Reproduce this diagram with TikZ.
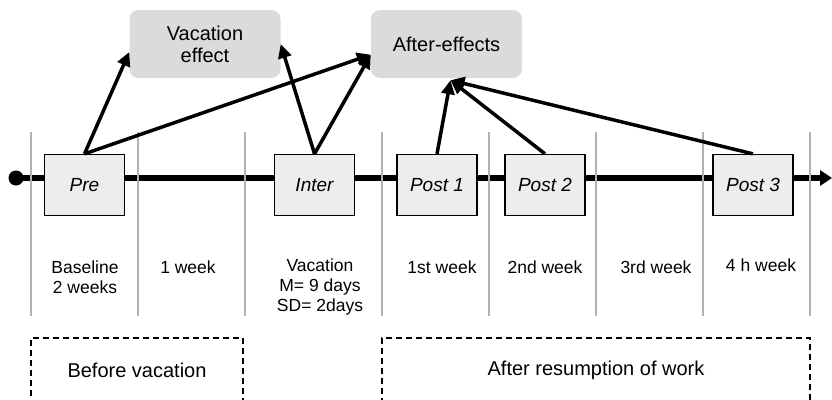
\documentclass[tikz,border=0pt]{standalone}
\usepackage{fontspec}
\setmainfont{Liberation Sans}
\usetikzlibrary{arrows.meta}
\tikzstyle{phasebox} = [draw,fill=black!7,font=\fontsize{19}{22}\selectfont\itshape,minimum width=80pt,minimum height=61pt,inner sep=0pt,line width=1.3pt]
\tikzstyle{effectbox} = [fill=black!14,rounded corners=9pt,font=\fontsize{20}{22}\selectfont,align=center,minimum width=151pt,minimum height=68pt,inner sep=0pt]
\tikzstyle{periodlabel} = [font=\fontsize{17.5}{20}\selectfont,align=center,inner sep=0pt]
\tikzstyle{spanbox} = [draw,line width=2.5pt,dash pattern=on 6pt off 4pt,font=\fontsize{20}{22}\selectfont,minimum height=64pt,inner sep=0pt]
\tikzstyle{effectarrow} = [line width=3.5pt,-{Triangle[length=14pt,width=13pt]}]

\begin{document}
\begin{tikzpicture}[x=1pt,y=-1pt]
		\useasboundingbox (0,0) rectangle (832,399);

		% time line
		\node[circle,fill,inner sep=0pt,minimum size=15pt] (start) at (16,178) {};
		\coordinate (tend) at (832,178);
		\draw[line width=6pt,-{Triangle[length=12pt,width=15pt]}] (start.center) -- (tend);
		\foreach \x in {31,138,245,382,489,596,703,810}
			\draw[black!30,line width=1.2pt] (\x,132) -- (\x,316);

		\node[phasebox] (pre) at (84.5,185) {Pre};
		\node[phasebox] (inter) at (314.5,185) {Inter};
		\node[phasebox] (post1) at (437,185) {Post 1};
		\node[phasebox] (post2) at (545,185) {Post 2};
		\node[phasebox] (post3) at (753,185) {Post 3};

		\node[effectbox] (vac) at (205,44) {Vacation\\effect};
		\node[effectbox] (after) at (446.5,44) {After-effects};

		\draw[effectarrow] (pre.north) -- (vac.186);
		\draw[effectarrow] (pre.north) -- (after.188);
		\draw[effectarrow] (inter.north) -- (vac.east);
		\draw[effectarrow] (inter.north) -- (after.188);
		\draw[effectarrow] (post1.north) -- ([xshift=4pt,yshift=-2pt]after.south);
		\draw[effectarrow] (post2.north) -- ([xshift=4pt,yshift=-2pt]after.south);
		\draw[effectarrow] (post3.north) -- ([xshift=4pt,yshift=-2pt]after.south);

		\node[periodlabel] (base) at (85,277) {Baseline\\2 weeks};
		\node[periodlabel] (wk) at (188,267) {1 week};
		\node[periodlabel] (vacation) at (320,287) {Vacation\\M= 9 days\\SD= 2days};
		\node[periodlabel] (wk1) at (442,267) {1st week};
		\node[periodlabel] (wk2) at (545,267) {2nd week};
		\node[periodlabel] (wk3) at (656,267) {3rd week};
		\node[periodlabel] (wk4) at (761,265) {4 h week};

		\node[spanbox,minimum width=212pt] (before) at (137,370) {Before vacation};
		\node[spanbox,minimum width=428pt] (resume) at (596,370) {After resumption of work};
	\end{tikzpicture}
\end{document}
